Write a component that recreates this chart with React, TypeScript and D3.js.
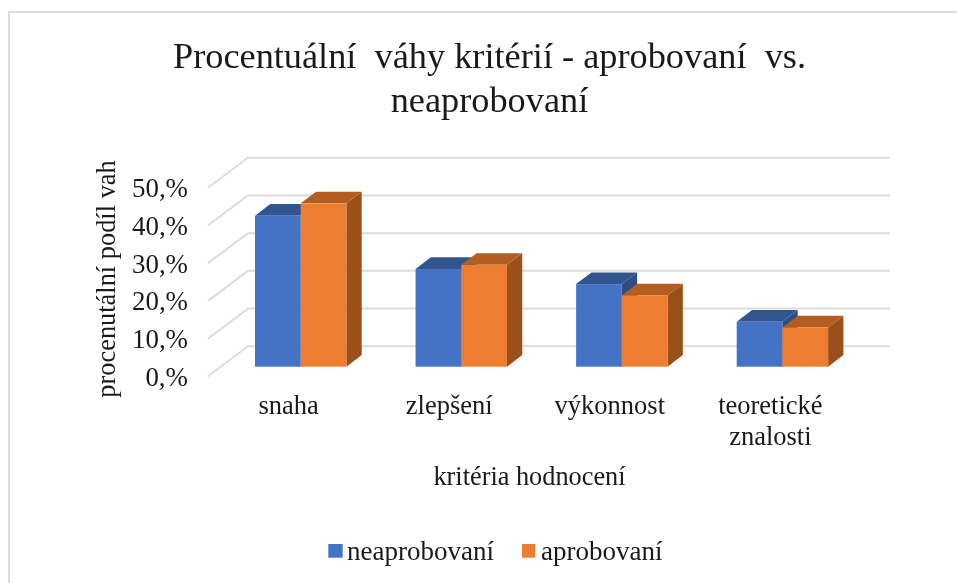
import React from "react";
import * as d3 from "d3";

const categories = ["snaha", "zlepšení", "výkonnost", "teoretické znalosti"];
const neaprobovani = [40.0, 25.9, 21.9, 11.9];
const aprobovani = [43.3, 27.0, 18.9, 10.4];
const ticks = [0, 10, 20, 30, 40, 50];
const seriesNames = ["neaprobovaní", "aprobovaní"];
const titleLines = ["Procentuální  váhy kritérií - aprobovaní  vs.", "neaprobovaní"];

const W = 957, H = 583;
const FONT = "'Liberation Serif', serif";
const TXT = "#1a1a1a";
const GRID = "#dcdcdc";

// plot geometry
const backLeft = 248, backRight = 890;
const floorDx = -40, floorDy = 30;
const y = d3.scaleLinear().domain([0, 50]).range([346.3, 157.7]);
const barW = 45.7;
const groupLeft = d3.scaleLinear().domain([0, 3]).range([255, 736.7]);
const baseY = 366.7;
const depthX = 15.3, depthY = 11.7;
const h = d3.scaleLinear().domain([0, 50]).range([0, 188.6]);

const BLUE = ["#4472c4", "#325590", "#2c4d86"];
const ORANGE = ["#ed7d31", "#b35e20", "#9a5119"];

function Bar({ left, value, c }: { left: number; value: number; c: string[] }) {
  const top = baseY - h(value);
  const line = d3.line();
  const right = left + barW;
  return (
    <g>
      <path d={line([[right, baseY], [right + depthX, baseY - depthY], [right + depthX, top - depthY], [right, top]])!} fill={c[2]} />
      <path d={line([[left, top], [left + depthX, top - depthY], [right + depthX, top - depthY], [right, top]])!} fill={c[1]} />
      <rect x={left} y={top} width={barW} height={baseY - top} fill={c[0]} />
    </g>
  );
}

export default function App() {
  return (
    <svg width={W} height={H} viewBox={`0 0 ${W} ${H}`}
      style={{ position: "absolute", left: 0, top: 0, background: "#fff", filter: "blur(0.45px)" }}>
      <path d={`M9 ${H} V12 H${W}`} fill="none" stroke={GRID} strokeWidth={2} />
      {titleLines.map((t, i) => (
        <text key={i} x={489.5} y={68 + i * 44} textAnchor="middle" fontFamily={FONT} fontSize={36.3} fill={TXT} style={{ whiteSpace: "pre" }}>{t}</text>
      ))}
      {ticks.map((t) => (
        <g key={t}>
          <path d={`M${backLeft + floorDx} ${y(t) + floorDy} L${backLeft} ${y(t)} H${backRight}`} fill="none" stroke={GRID} strokeWidth={2} />
          <text x={188} y={y(t) + floorDy + 9.5} textAnchor="end" fontFamily={FONT} fontSize={26.9} fill={TXT}>{`${t},%`}</text>
        </g>
      ))}
      {categories.map((c, i) => (
        <g key={c}>
          <Bar left={groupLeft(i)} value={neaprobovani[i]} c={BLUE} />
          <Bar left={groupLeft(i) + barW} value={aprobovani[i]} c={ORANGE} />
        </g>
      ))}
      {categories.map((c, i) => {
        const cx = groupLeft(i) + barW - 12;
        return c.split(" ").map((w, j) => (
          <text key={w} x={cx} y={414 + j * 31} textAnchor="middle" fontFamily={FONT} fontSize={26.5} fill={TXT}>{w}</text>
        ));
      })}
      <text x={529.5} y={485} textAnchor="middle" fontFamily={FONT} fontSize={26.3} fill={TXT}>kritéria hodnocení</text>
      <text transform="translate(115,279) rotate(-90)" textAnchor="middle" fontFamily={FONT} fontSize={26.4} fill={TXT}>procenutální podíl vah</text>
      <rect x={328.3} y={544} width={14.4} height={13.7} fill={BLUE[0]} />
      <text x={347} y={560} fontFamily={FONT} fontSize={27} fill={TXT}>{seriesNames[0]}</text>
      <rect x={522} y={544} width={13} height={13.7} fill={ORANGE[0]} />
      <text x={541} y={560} fontFamily={FONT} fontSize={27} fill={TXT}>{seriesNames[1]}</text>
    </svg>
  );
}
